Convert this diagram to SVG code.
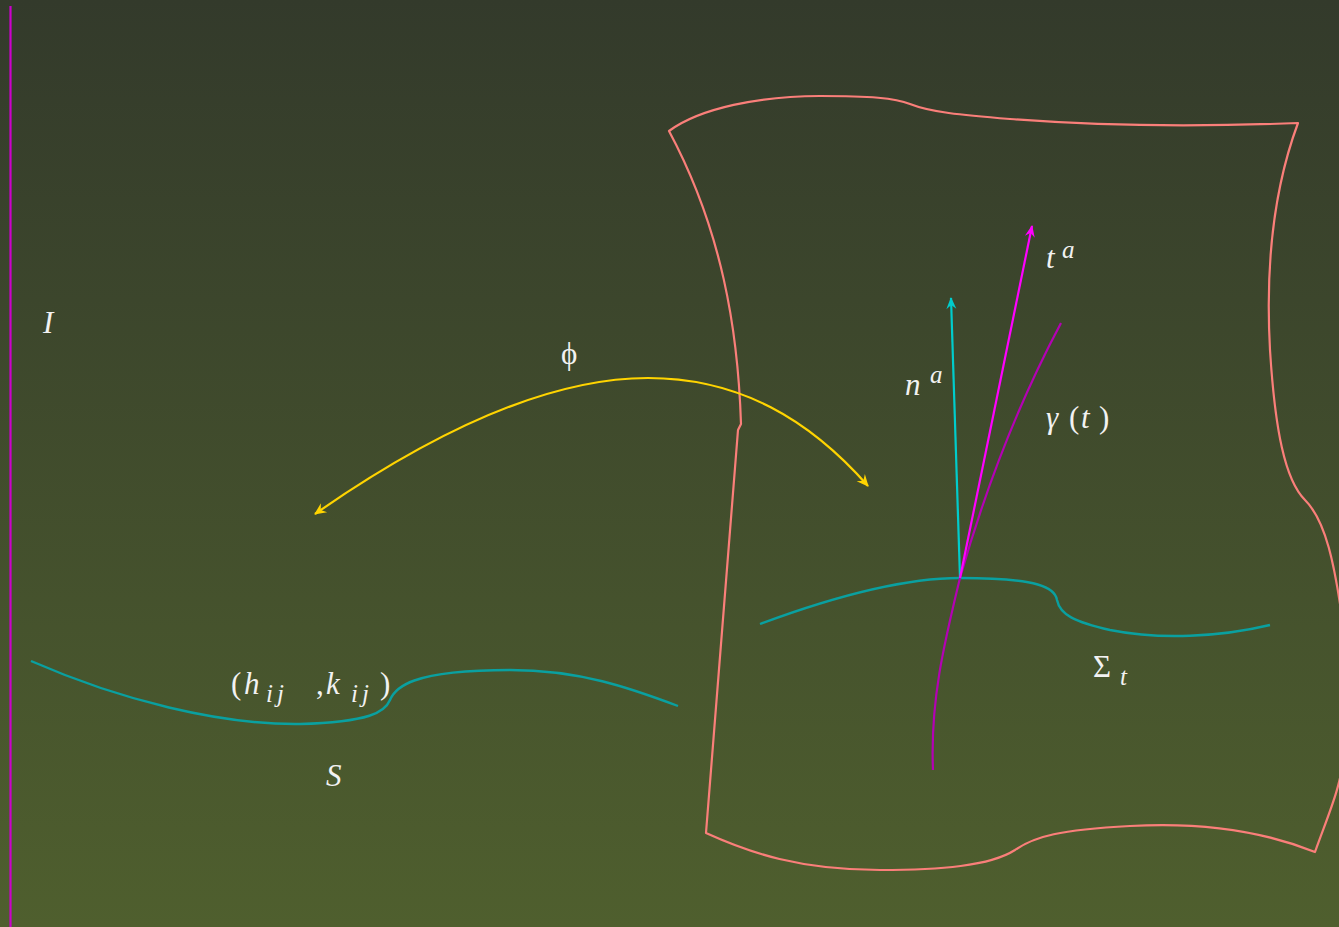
<svg xmlns="http://www.w3.org/2000/svg" width="1339" height="927" viewBox="0 0 1339 927">
<style>
.lbl{font-family:"Liberation Serif","DejaVu Serif",serif;font-style:italic;font-size:31px;fill:#f2f2f2}
.up{font-style:normal}
.sm{font-size:25px}
.surf{fill:none;stroke:#fa7f7a;stroke-width:2.2;stroke-linejoin:round}
.teal{fill:none;stroke:#0aa0a0;stroke-width:2.4}
</style>
<defs>
<linearGradient id="bg" x1="0" y1="0" x2="0" y2="1">
<stop offset="0" stop-color="#333a2b"/>
<stop offset="1" stop-color="#4f5f2e"/>
</linearGradient>
<marker id="ay" viewBox="-12 -7 14 14" markerWidth="14" markerHeight="14" refX="0" refY="0" orient="auto-start-reverse" markerUnits="userSpaceOnUse">
<path d="M1,0 L-11,-5.5 L-7,0 L-11,5.5 z" fill="#ffd400"/>
</marker>
<marker id="ac" viewBox="-12 -7 14 14" markerWidth="14" markerHeight="14" refX="0" refY="0" orient="auto" markerUnits="userSpaceOnUse">
<path d="M1,0 L-11,-5 L-7,0 L-11,5 z" fill="#00cccc"/>
</marker>
<marker id="am" viewBox="-12 -7 14 14" markerWidth="14" markerHeight="14" refX="0" refY="0" orient="auto" markerUnits="userSpaceOnUse">
<path d="M1,0 L-11,-5 L-7,0 L-11,5 z" fill="#ff00ff"/>
</marker>
</defs>
<rect x="0" y="0" width="1339" height="927" fill="url(#bg)"/>

<g id="axis-I">
<line x1="10.5" y1="6" x2="10.5" y2="927" stroke="#cc00cc" stroke-width="2.2"/>
<text class="lbl" x="43" y="333">I</text>
</g>

<g id="surface-M">
<path class="surf" d="M669,131 C700,108 760,96 820,96 C870,96 895,98 910,104 C930,112 960,115 1010,119 C1100,126 1200,127 1298,123 C1275,185 1265,260 1270,350 C1275,430 1285,480 1305,500 C1325,520 1335,560 1345,640 L1345,750 C1340,790 1330,810 1315,852 C1260,830 1200,822 1130,826 C1060,830 1035,836 1015,850 C990,866 940,870 880,870 C800,870 750,853 706,833 L738,430 L741,424 C738,330 722,230 669,131 Z"/>
</g>

<g id="slice-S">
<path class="teal" stroke="#08adad" d="M31,661 C120,700 220,725 300,724 C370,722 385,712 390,700 C395,688 410,670 510,670 C580,670 630,688 678,706"/>
<text class="lbl up" x="231" y="694">(</text>
<text class="lbl" x="244" y="694">h</text>
<text class="lbl sm" x="266" y="702" letter-spacing="4">ij</text>
<text class="lbl up" x="316" y="694">,</text>
<text class="lbl" x="326" y="694">k</text>
<text class="lbl sm" x="351" y="702" letter-spacing="4">ij</text>
<text class="lbl up" x="380" y="694">)</text>
<text class="lbl" x="326" y="786">S</text>
</g>

<g id="slice-Sigma">
<path class="teal" stroke="#0a9696" d="M760,624 C830,598 900,578 960,578 C1040,578 1055,588 1057,600 C1060,615 1075,622 1110,630 C1160,640 1220,637 1270,625"/>
<text class="lbl up" x="1093" y="677">Σ</text>
<text class="lbl sm" x="1120" y="685">t</text>
</g>

<g id="curve-gamma">
<path fill="none" stroke="#b400b4" stroke-width="2.2" d="M933,770 C930,700 945,640 960,578 C985,490 1020,400 1061,323"/>
<text class="lbl" x="1046" y="428">γ</text>
<text class="lbl up" x="1069" y="428">(</text>
<text class="lbl" x="1081" y="428">t</text>
<text class="lbl up" x="1099" y="428">)</text>
</g>

<g id="connectors">
<path fill="none" stroke="#ffd400" stroke-width="2.2" marker-start="url(#ay)" marker-end="url(#ay)" d="M315,514 C450,420 560,378 648,378 C740,378 810,420 868,486"/>
<line x1="960" y1="578" x2="951" y2="298" stroke="#00cccc" stroke-width="2.2" marker-end="url(#ac)"/>
<line x1="960" y1="578" x2="1032" y2="226" stroke="#ff00ff" stroke-width="2.2" marker-end="url(#am)"/>
</g>

<g id="labels">
<text class="lbl up" x="561" y="364">ϕ</text>
<text class="lbl" x="905" y="395">n</text>
<text class="lbl sm" x="930" y="383">a</text>
<text class="lbl" x="1046" y="268">t</text>
<text class="lbl sm" x="1062" y="258">a</text>
</g>
</svg>
